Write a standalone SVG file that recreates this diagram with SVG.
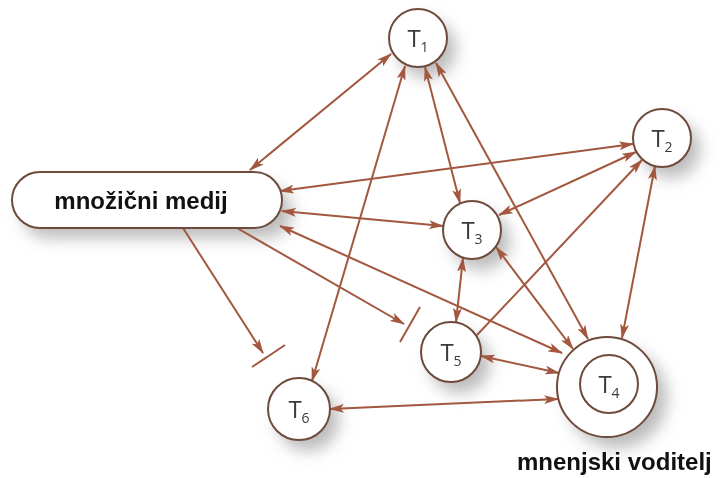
<svg xmlns="http://www.w3.org/2000/svg" width="721" height="478" viewBox="0 0 721 478">
  <style>
    .link { stroke: #a3573f; stroke-width: 2; fill: none; }
    .bar { stroke: #a3573f; stroke-width: 2; }
    .node { fill: #ffffff; stroke: #6e4a3c; stroke-width: 2; }
    .shadow { fill: #8e8e8e; opacity: 0.6; }
    .tlabel { font-family: "Open Sans", "Noto Sans", sans-serif; font-size: 24px; fill: #3a3a3a; text-anchor: middle; }
    .sub { font-size: 14px; }
    .big { font-family: "Liberation Sans", Arial, sans-serif; font-weight: bold; font-size: 24px; fill: #111111; }
  </style>
  <defs>
    <filter id="soft" x="-50%" y="-50%" width="200%" height="200%">
      <feGaussianBlur stdDeviation="8"/>
    </filter>
    <marker id="head" viewBox="0 0 15 9" refX="14" refY="4.5" markerWidth="15" markerHeight="9" markerUnits="userSpaceOnUse" orient="auto-start-reverse">
      <path d="M0,0 L15,4.5 L0,9 L3.5,4.5 Z" fill="#a3573f"/>
    </marker>
  </defs>

  <rect width="721" height="478" fill="#ffffff"/>

  <!-- soft shadows below the nodes -->
  <g id="shadows" filter="url(#soft)">
    <rect class="shadow" x="22" y="186" width="270" height="52" rx="26"/>
    <circle class="shadow" cx="427" cy="49" r="29"/>
    <circle class="shadow" cx="671" cy="149" r="29"/>
    <circle class="shadow" cx="481" cy="241" r="29"/>
    <circle class="shadow" cx="617" cy="398" r="50"/>
    <circle class="shadow" cx="460" cy="363" r="30"/>
    <circle class="shadow" cx="308" cy="420" r="31"/>
  </g>

  <g id="connectors">
    <!-- mass media links -->
    <line class="link" x1="250" y1="170" x2="391" y2="54" marker-start="url(#head)" marker-end="url(#head)"/>
    <line class="link" x1="280" y1="191" x2="633" y2="144" marker-start="url(#head)" marker-end="url(#head)"/>
    <line class="link" x1="282" y1="211" x2="443" y2="226" marker-start="url(#head)" marker-end="url(#head)"/>
    <line class="link" x1="280" y1="226" x2="562" y2="353" marker-start="url(#head)" marker-end="url(#head)"/>
    <!-- blocked links -->
    <line class="link" x1="237" y1="228" x2="404" y2="324" marker-end="url(#head)"/>
    <line class="bar" x1="420" y1="307" x2="400" y2="342"/>
    <line class="link" x1="183" y1="228" x2="263" y2="353" marker-end="url(#head)"/>
    <line class="bar" x1="285" y1="345" x2="252" y2="367"/>
    <!-- links between nodes -->
    <line class="link" x1="405" y1="66" x2="312" y2="381" marker-start="url(#head)" marker-end="url(#head)"/>
    <line class="link" x1="425" y1="67" x2="460" y2="203" marker-start="url(#head)" marker-end="url(#head)"/>
    <line class="link" x1="436" y1="63" x2="588" y2="339" marker-start="url(#head)" marker-end="url(#head)"/>
    <line class="link" x1="636" y1="152" x2="499" y2="215" marker-start="url(#head)" marker-end="url(#head)"/>
    <line class="link" x1="477" y1="335" x2="642" y2="160" marker-end="url(#head)"/>
    <line class="link" x1="655" y1="166" x2="622" y2="338" marker-start="url(#head)" marker-end="url(#head)"/>
    <line class="link" x1="463" y1="258" x2="456" y2="322" marker-start="url(#head)" marker-end="url(#head)"/>
    <line class="link" x1="496" y1="247" x2="573" y2="349" marker-start="url(#head)" marker-end="url(#head)"/>
    <line class="link" x1="481" y1="356" x2="559" y2="373" marker-start="url(#head)" marker-end="url(#head)"/>
    <line class="link" x1="330" y1="409" x2="558" y2="399" marker-start="url(#head)" marker-end="url(#head)"/>
  </g>

  <g id="media">
    <rect class="node" x="12" y="172" width="270" height="56" rx="28"/>
    <text class="big" x="141" y="209" text-anchor="middle">množični medij</text>
  </g>

  <g id="t1">
    <circle class="node" cx="418" cy="38" r="29"/>
    <text class="tlabel" x="418" y="47">T<tspan class="sub" dy="5">1</tspan></text>
  </g>
  <g id="t2">
    <circle class="node" cx="662" cy="138" r="29"/>
    <text class="tlabel" x="662" y="147">T<tspan class="sub" dy="5">2</tspan></text>
  </g>
  <g id="t3">
    <circle class="node" cx="472" cy="230" r="29"/>
    <text class="tlabel" x="472" y="239">T<tspan class="sub" dy="5">3</tspan></text>
  </g>
  <g id="t4">
    <circle class="node" cx="607" cy="387" r="50"/>
    <circle class="node" cx="609" cy="384" r="29"/>
    <text class="tlabel" x="609" y="393">T<tspan class="sub" dy="5">4</tspan></text>
    <text class="big" x="517" y="470">mnenjski voditelj</text>
  </g>
  <g id="t5">
    <circle class="node" cx="451" cy="352" r="30"/>
    <text class="tlabel" x="451" y="361">T<tspan class="sub" dy="5">5</tspan></text>
  </g>
  <g id="t6">
    <circle class="node" cx="299" cy="409" r="31"/>
    <text class="tlabel" x="299" y="418">T<tspan class="sub" dy="5">6</tspan></text>
  </g>
</svg>
